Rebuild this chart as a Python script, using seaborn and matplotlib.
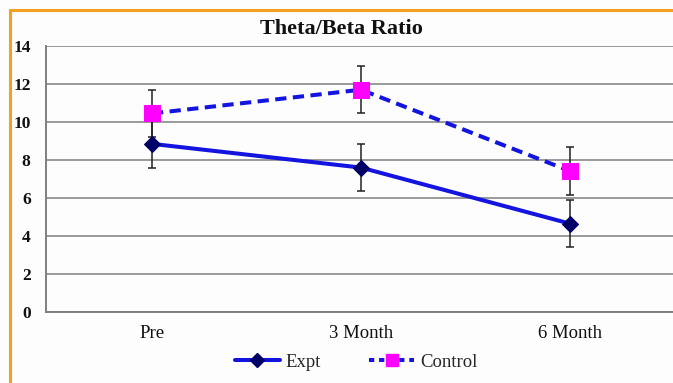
import numpy as np
import pandas as pd
import matplotlib
matplotlib.use("Agg")
import matplotlib.pyplot as plt
import seaborn as sns
from matplotlib.patches import Rectangle

# data
timepoints = ["Pre", "3 Month", "6 Month"]
expt_mean = [8.85, 7.6, 4.65]
expt_err = [1.25, 1.25, 1.25]
control_mean = [10.45, 11.7, 7.42]
control_err = [1.25, 1.25, 1.28]
groups = ["Expt", "Control"]

df = pd.DataFrame({
    "time": timepoints * 2,
    "ratio": expt_mean + control_mean,
    "err": expt_err + control_err,
    "group": np.repeat(groups, len(timepoints)),
})

sns.set_style("white")
plt.rcParams["font.family"] = ["Liberation Serif", "DejaVu Serif"]

fig = plt.figure(figsize=(6.73, 3.83), dpi=100, facecolor="#fdfdfd")
W, H = 673, 383
ax = fig.add_axes([46 / W, (H - 312) / H, (673 - 46) / W, 266 / H])
ax.set_facecolor("#fdfdfd")

# orange frame (cut off at right/bottom like the original)
fig.patches.append(Rectangle((10 / W, -0.1), 1.2, (H - 10) / H + 0.1,
                             transform=fig.transFigure, fill=False,
                             edgecolor="#f5a01e", linewidth=2.2, zorder=0))

blue = "#1414e0"
palette = {"Expt": blue, "Control": blue}
sns.lineplot(data=df, x="time", y="ratio", hue="group", style="group",
             palette=palette, markers={"Expt": "D", "Control": "s"},
             dashes={"Expt": "", "Control": (2.8, 1.6)}, linewidth=2.9,
             markersize=9, ax=ax, zorder=3, legend=False, sort=False)

# recolour markers
for line, mfc, ms in zip(ax.lines, ["#000066", "#ff00ff"], [8, 11]):
    line.set_markerfacecolor(mfc)
    line.set_markeredgecolor(mfc)
    line.set_markersize(ms)

xpos = np.arange(len(timepoints))
for g in groups:
    sub = df[df["group"] == g]
    ax.errorbar(xpos, sub["ratio"], yerr=sub["err"], fmt="none",
                ecolor="#222222", elinewidth=1.1, capsize=3.2, capthick=1.1,
                zorder=2)

ax.set_xlim(-0.507, 2.493)
ax.set_ylim(0, 14)
ax.set_yticks(range(0, 15, 2))
ax.yaxis.grid(True, color="#9a9a9a", linewidth=1.4)
ax.set_axisbelow(True)
for s in ["top", "right"]:
    ax.spines[s].set_visible(False)
for s in ["left", "bottom"]:
    ax.spines[s].set_color("#808080")
    ax.spines[s].set_linewidth(1.4)
ax.tick_params(axis="both", length=0, labelsize=13.5, colors="#111111")
ax.tick_params(axis="x", pad=9)
ax.tick_params(axis="y", pad=11, labelsize=12.5)
for lab in ax.get_yticklabels():
    lab.set_fontweight("bold")
ax.set_xlabel("")
ax.set_ylabel("")

fig.text(341 / W, 1 - 29 / H, "Theta/Beta Ratio", ha="center", va="center",
         fontsize=16, fontweight="bold", color="#111111")

handles = [
    plt.Line2D([], [], color=blue, linewidth=2.9, marker="D",
               markersize=7, markerfacecolor="#000066",
               markeredgecolor="#000066"),
    plt.Line2D([], [], color=blue, linewidth=2.9, linestyle=(0, (1.3, 1.2)),
               marker="s", markersize=9, markerfacecolor="#ff00ff",
               markeredgecolor="#ff00ff"),
]
fig.legend(handles, groups, loc="center", bbox_to_anchor=(356 / W, 1 - 362 / H),
           ncol=2, frameon=False, fontsize=13.5, handlelength=2.4,
           handletextpad=0.3, columnspacing=2.6)

fig.savefig("out.png", dpi=100, facecolor=fig.get_facecolor())
